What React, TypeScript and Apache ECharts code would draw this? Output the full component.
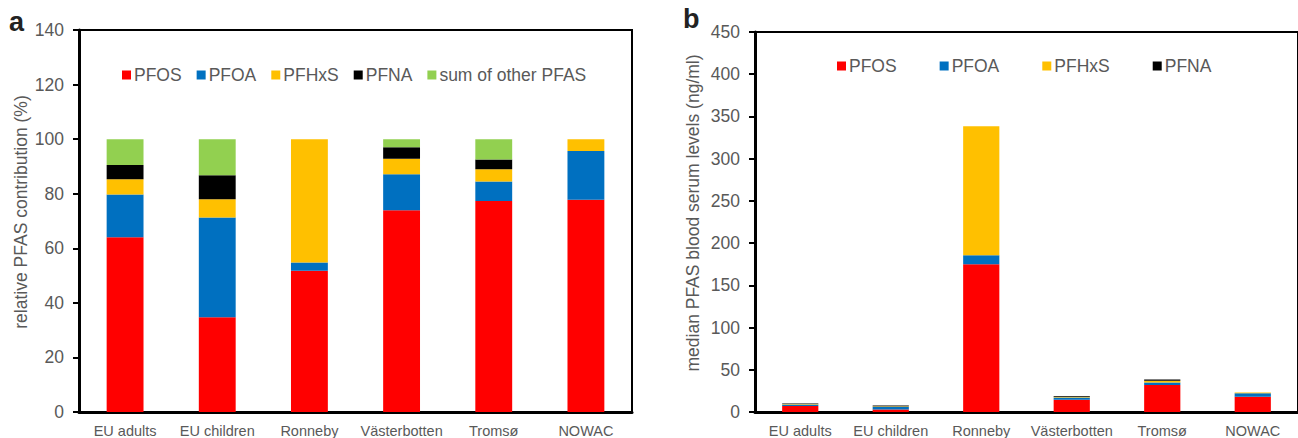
import React, { useEffect, useRef } from "react";
import * as echarts from "echarts";

const categories = ["EU adults", "EU children", "Ronneby", "Västerbotten", "Tromsø", "NOWAC"];

// panel a: relative contribution (%)
const relPFOS = [64.0, 34.7, 51.8, 73.9, 77.3, 77.8];
const relPFOA = [15.7, 36.6, 3.0, 13.2, 7.2, 17.9];
const relPFHxS = [5.6, 6.7, 45.2, 5.7, 4.5, 4.3];
const relPFNA = [5.2, 8.8, 0, 4.2, 3.5, 0];
const relOther = [9.5, 13.2, 0, 3.0, 7.5, 0];

// panel b: median serum levels (ng/ml)
const medPFOS = [7.0, 3.0, 175, 14.5, 32, 18];
const medPFOA = [1.8, 3.2, 10.5, 2.6, 3.0, 4.1];
const medPFHxS = [0.6, 0.6, 153, 1.1, 1.9, 1.0];
const medPFNA = [0.6, 0.8, 0, 0.8, 1.5, 0];

const namesA = ["PFOS", "PFOA", "PFHxS", "PFNA", "sum of other PFAS"];
const namesB = ["PFOS", "PFOA", "PFHxS", "PFNA"];
const colors: Record<string, string> = {
  PFOS: "#FF0000",
  PFOA: "#0070C0",
  PFHxS: "#FFC000",
  PFNA: "#000000",
  "sum of other PFAS": "#92D050",
};

const FONT = "'Liberation Sans', Arial, sans-serif";
const GREY = "#595959";

export default function App() {
  const ref = useRef<HTMLDivElement>(null);
  useEffect(() => {
    if (!ref.current) return;
    const chart = echarts.init(ref.current, undefined, { renderer: "svg" });
    const dataA = [relPFOS, relPFOA, relPFHxS, relPFNA, relOther];
    const dataB = [medPFOS, medPFOA, medPFHxS, medPFNA];

    const yAxisCommon = (max: number, interval: number, gridIndex: number) => ({
      type: "value",
      gridIndex,
      min: 0,
      max,
      interval,
      splitLine: { show: false },
      axisLine: { show: true, lineStyle: { color: "#000", width: 3 } },
      axisTick: { show: true, length: 6, lineStyle: { color: "#000", width: 2 } },
      axisLabel: { color: GREY, fontSize: 17.5, fontFamily: FONT, margin: 15 },
    });
    const xAxisCommon = (gridIndex: number) => ({
      type: "category",
      gridIndex,
      data: categories,
      axisLine: { show: true, lineStyle: { color: "#000", width: 3 } },
      axisTick: { show: false },
      axisLabel: { color: GREY, fontSize: 14.5, fontFamily: FONT, margin: 11, interval: 0 },
    });

    const option: any = {
      animation: false,
      backgroundColor: "#fff",
      textStyle: { fontFamily: FONT },
      grid: [
        { left: 79, top: 30, width: 553, height: 382, show: true, borderColor: "#000", borderWidth: 2 },
        { left: 755, top: 32, width: 553, height: 381, show: true, borderColor: "#000", borderWidth: 2 },
      ],
      xAxis: [xAxisCommon(0), xAxisCommon(1)],
      yAxis: [yAxisCommon(140, 20, 0), yAxisCommon(450, 50, 1)],
      legend: [
        {
          data: namesA,
          left: 122,
          top: 66,
          padding: 0,
          icon: "rect",
          itemWidth: 9,
          itemHeight: 9,
          itemGap: 15,
          selectedMode: false,
          textStyle: { color: GREY, fontSize: 17.5, fontFamily: FONT, padding: [0, 0, 0, -2] },
        },
        {
          data: namesB,
          left: 837,
          top: 57,
          padding: 0,
          icon: "rect",
          itemWidth: 9,
          itemHeight: 9,
          itemGap: 43,
          selectedMode: false,
          textStyle: { color: GREY, fontSize: 17.5, fontFamily: FONT, padding: [0, 0, 0, -2] },
        },
      ],
      series: [
        ...namesA.map((n, i) => ({
          name: n,
          type: "bar",
          stack: "a",
          xAxisIndex: 0,
          yAxisIndex: 0,
          barWidth: "40%",
          data: dataA[i],
          itemStyle: { color: colors[n] },
        })),
        ...namesB.map((n, i) => ({
          name: n,
          type: "bar",
          stack: "b",
          xAxisIndex: 1,
          yAxisIndex: 1,
          barWidth: "40%",
          data: dataB[i],
          itemStyle: { color: colors[n] },
        })),
      ],
      graphic: [
        {
          type: "text",
          left: 9,
          top: 8,
          style: { text: "a", font: `bold 27px ${FONT}`, fill: "#222" },
        },
        {
          type: "text",
          left: 683,
          top: 5,
          style: { text: "b", font: `bold 27px ${FONT}`, fill: "#222" },
        },
        {
          type: "text",
          x: 21,
          y: 212,
          rotation: Math.PI / 2,
          style: {
            text: "relative PFAS contribution (%)",
            font: `17.5px ${FONT}`,
            fill: GREY,
            align: "center",
            verticalAlign: "middle",
          },
        },
        {
          type: "text",
          x: 693,
          y: 213,
          rotation: Math.PI / 2,
          style: {
            text: "median PFAS blood serum levels (ng/ml)",
            font: `17.5px ${FONT}`,
            fill: GREY,
            align: "center",
            verticalAlign: "middle",
          },
        },
      ],
    };
    chart.setOption(option);
    return () => chart.dispose();
  }, []);
  return (
    <div
      ref={ref}
      style={{ position: "absolute", left: 0, top: 0, width: 1298, height: 438, background: "#fff" }}
    />
  );
}
